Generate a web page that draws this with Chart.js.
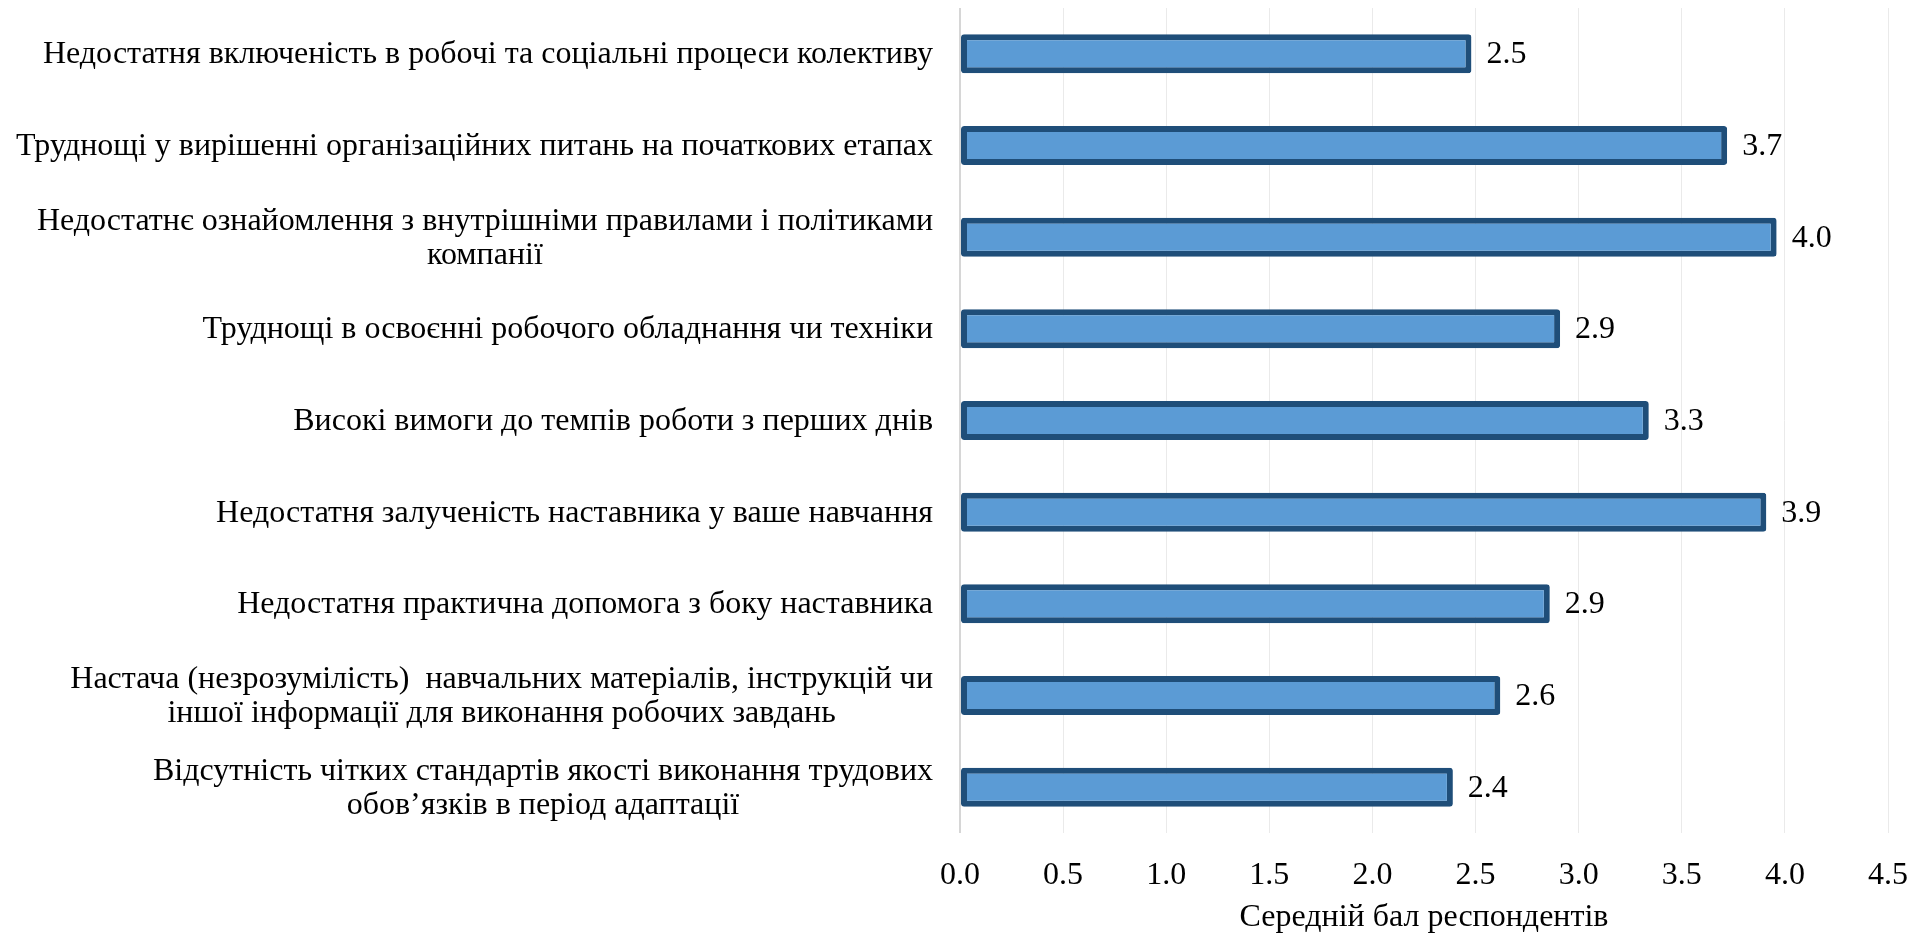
<!DOCTYPE html>
<html lang="uk">
<head>
<meta charset="utf-8">
<title>Середній бал респондентів</title>
<script src="https://cdn.jsdelivr.net/npm/chart.js@4.4.1/dist/chart.umd.min.js"></script>
<style>
  html, body { margin: 0; padding: 0; background: #fff; }
  #wrap { width: 1912px; height: 934px; position: relative; }
</style>
</head>
<body>
<div id="wrap"><canvas id="myChart"></canvas></div>
<script>
// problems of adaptation, top to bottom
const problemLabels = [
  'Недостатня включеність в робочі та соціальні процеси колективу',
  'Труднощі у вирішенні організаційних питань на початкових етапах',
  ['Недостатнє ознайомлення з внутрішніми правилами і політиками', 'компанії'],
  'Труднощі в освоєнні робочого обладнання чи техніки',
  'Високі вимоги до темпів роботи з перших днів',
  'Недостатня залученість наставника у ваше навчання',
  'Недостатня практична допомога з боку наставника',
  ['Настача (незрозумілість)  навчальних матеріалів, інструкцій чи', 'іншої інформації для виконання робочих завдань'],
  ['Відсутність чітких стандартів якості виконання трудових', 'обов’язків в період адаптації']
];
const avgScores = [2.48, 3.72, 3.96, 2.91, 3.34, 3.91, 2.86, 2.62, 2.39];
const xTicks = [0, 0.5, 1, 1.5, 2, 2.5, 3, 3.5, 4, 4.5];
const xTitle = 'Середній бал респондентів';

const fontFamily = "'Liberation Serif', 'Times New Roman', serif";
const fontSize = 32;

// left-hand category labels: block right aligned, lines centred inside the block
const categoryLabels = {
  id: 'categoryLabels',
  afterDraw(chart) {
    const ctx = chart.ctx;
    const yScale = chart.scales.y;
    const right = yScale.right - 27;
    ctx.save();
    ctx.font = fontSize + 'px ' + fontFamily;
    ctx.fillStyle = '#000';
    ctx.textAlign = 'center';
    ctx.textBaseline = 'middle';
    problemLabels.forEach((label, i) => {
      const lines = Array.isArray(label) ? label : [label];
      const w = Math.max(...lines.map(l => ctx.measureText(l).width));
      const cx = right - w / 2;
      const cy = yScale.getPixelForValue(i) + 1;
      lines.forEach((line, k) => {
        ctx.fillText(line, cx, cy + (k - (lines.length - 1) / 2) * 34);
      });
    });
    ctx.restore();
  }
};

// value printed after the end of each bar
const valueLabels = {
  id: 'valueLabels',
  afterDatasetsDraw(chart) {
    const ctx = chart.ctx;
    const meta = chart.getDatasetMeta(0);
    ctx.save();
    ctx.font = fontSize + 'px ' + fontFamily;
    ctx.fillStyle = '#000';
    ctx.textAlign = 'left';
    ctx.textBaseline = 'middle';
    meta.data.forEach((bar, i) => {
      ctx.fillText(avgScores[i].toFixed(1), bar.x + 15, bar.y + 1);
    });
    ctx.restore();
  }
};

new Chart(document.getElementById('myChart'), {
  type: 'bar',
  data: {
    labels: problemLabels,
    datasets: [{
      data: avgScores,
      backgroundColor: '#5B9BD5',
      borderColor: '#1F4E79',
      borderWidth: 6,
      borderSkipped: false,
      borderRadius: 3,
      barPercentage: 0.425,
      categoryPercentage: 1
    }]
  },
  plugins: [categoryLabels, valueLabels],
  options: {
    indexAxis: 'y',
    responsive: true,
    maintainAspectRatio: false,
    animation: false,
    layout: { padding: { top: 8, right: 24, left: 0, bottom: 0 } },
    plugins: {
      legend: { display: false },
      tooltip: { enabled: false }
    },
    scales: {
      x: {
        min: 0,
        max: 4.5,
        afterBuildTicks: scale => { scale.ticks = xTicks.map(v => ({ value: v })); },
        afterFit: scale => {
          scale.height = 101;
          // let the last tick label run to the canvas edge
          scale.paddingLeft = 0;
          scale.paddingRight = 0;
        },
        grid: {
          drawTicks: false,
          color: ctx => ctx.tick && ctx.tick.value === 0 ? '#D6D6D6' : '#EAEAEA',
          lineWidth: ctx => ctx.tick && ctx.tick.value === 0 ? 2 : 1
        },
        border: { display: false },
        ticks: {
          padding: 23,
          color: '#000',
          font: { family: fontFamily, size: fontSize },
          maxRotation: 0,
          callback: v => Number(v).toFixed(1)
        },
        title: {
          display: true,
          text: xTitle,
          color: '#000',
          font: { family: fontFamily, size: fontSize, lineHeight: 1 },
          padding: { top: 0, bottom: 0 }
        }
      },
      y: {
        afterFit: scale => { scale.width = 960; },
        grid: { display: false, drawTicks: false },
        border: { display: false },
        ticks: { display: false }
      }
    }
  }
});
</script>
</body>
</html>
